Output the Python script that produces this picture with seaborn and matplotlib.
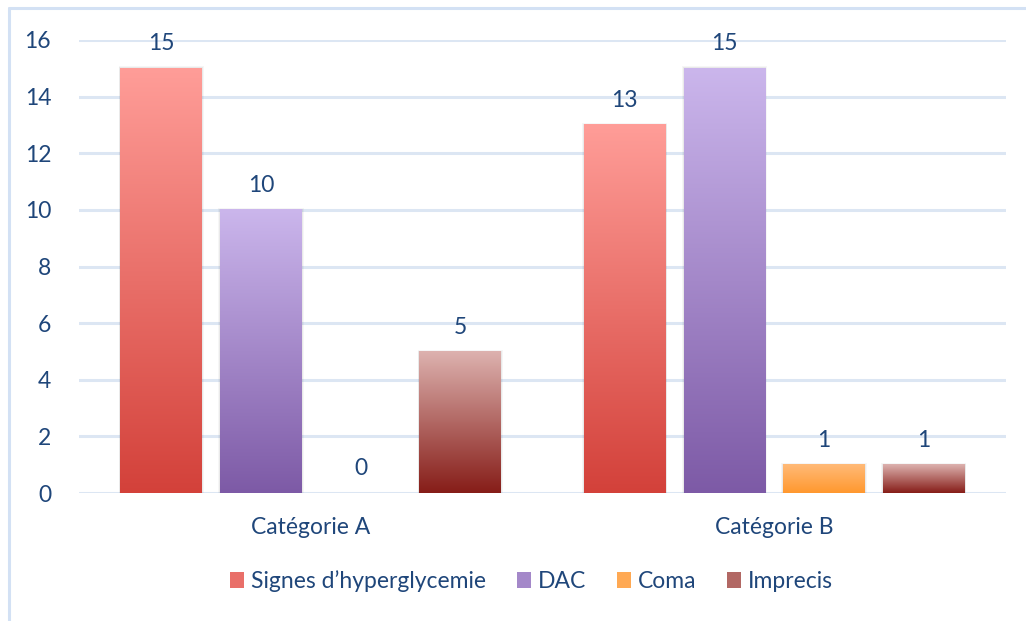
import numpy as np
import pandas as pd
import matplotlib
matplotlib.use("Agg")
import matplotlib.pyplot as plt
from matplotlib.colors import LinearSegmentedColormap
from matplotlib.patches import Patch, Rectangle
from matplotlib.lines import Line2D
import seaborn as sns

# Data
categories = ["Catégorie A", "Catégorie B"]
series = ["Signes d\u2019hyperglycemie", "DAC", "Coma", "Imprecis"]
signes = [15, 13]
dac = [10, 15]
coma = [0, 1]
imprecis = [5, 1]

# Gradient colours per series: (top, bottom)
grad = {
    "Signes d\u2019hyperglycemie": ("#FF9D98", "#D3413A"),
    "DAC": ("#CBB6EC", "#7D5AA6"),
    "Coma": ("#FFBA78", "#FF982E"),
    "Imprecis": ("#DDB2AF", "#861D18"),
}
text_color = "#1F467A"
grid_color = "#DCE6F3"
fs = 16.5

df = pd.DataFrame({
    "categorie": categories * 4,
    "serie": sum([[s] * 2 for s in series], []),
    "valeur": signes + dac + coma + imprecis,
})

sns.set_theme(style="white")
plt.rcParams["font.family"] = ["Lato", "DejaVu Sans"]

fig = plt.figure(figsize=(10.26, 6.21), dpi=100)
ax = fig.add_axes([0.077, 0.206, 0.9035, 0.7296])

mid_colors = {s: LinearSegmentedColormap.from_list(s, [grad[s][1], grad[s][0]])(0.5) for s in series}
sns.barplot(data=df, x="categorie", y="valeur", hue="serie", order=categories,
            hue_order=series, palette=mid_colors, width=0.86, gap=0.18,
            legend=False, ax=ax, zorder=3)

ax.set_xlim(-0.5, 1.5)
ax.set_ylim(0, 16)
ax.set_yticks(np.arange(0, 17, 2))
ax.yaxis.grid(True, color=grid_color, linewidth=2.2, zorder=0)
ax.set_axisbelow(True)
for sp in ax.spines.values():
    sp.set_visible(False)
ax.set_xlabel("")
ax.set_ylabel("")
ax.tick_params(axis="y", length=0, pad=20, labelsize=fs, labelcolor=text_color)
ax.tick_params(axis="x", length=0, pad=17, labelsize=fs, labelcolor=text_color)

# Replace flat fills with vertical gradients, each bar with a faint soft shadow
for container, s in zip(ax.containers, series):
    cmap = LinearSegmentedColormap.from_list(s + "_g", [grad[s][1], grad[s][0]])
    for bar in container.patches:
        h = bar.get_height()
        x0 = bar.get_x()
        w = bar.get_width()
        bar.set_facecolor("none")
        bar.set_edgecolor("none")
        if h <= 0:
            continue
        for k, a in ((0.008, 0.035), (0.004, 0.05)):
            ax.add_patch(Rectangle((x0 - k * 0.5, 0), w + k, h + k * 8,
                                   facecolor="#000000", alpha=a, edgecolor="none",
                                   zorder=2.9))
        img = np.linspace(0, 1, 256).reshape(-1, 1)
        ax.imshow(img, cmap=cmap, origin="lower", aspect="auto",
                  extent=(x0, x0 + w, 0, h), zorder=3, interpolation="bilinear")
    ax.bar_label(container, labels=[f"{v:g}" for v in container.datavalues],
                 padding=10, fontsize=fs, color=text_color)

ax.set_xlim(-0.5, 1.5)
ax.set_ylim(0, 16)

handles = [Patch(facecolor=mid_colors[s], edgecolor="none") for s in series]
fig.legend(handles, series, loc="center", bbox_to_anchor=(0.518, 0.064), ncol=4,
           frameon=False, fontsize=fs, labelcolor=text_color,
           handlelength=0.6, handleheight=0.7, handletextpad=0.3, columnspacing=1.35)

# Light frame on the left and top edges
fig.add_artist(Line2D([0.009, 0.009], [0.0, 0.987], color="#D3E1F4", linewidth=2.2,
                      transform=fig.transFigure))
fig.add_artist(Line2D([0.009, 1.0], [0.987, 0.987], color="#D3E1F4", linewidth=2.2,
                      transform=fig.transFigure))

fig.savefig("out.png", dpi=100)
